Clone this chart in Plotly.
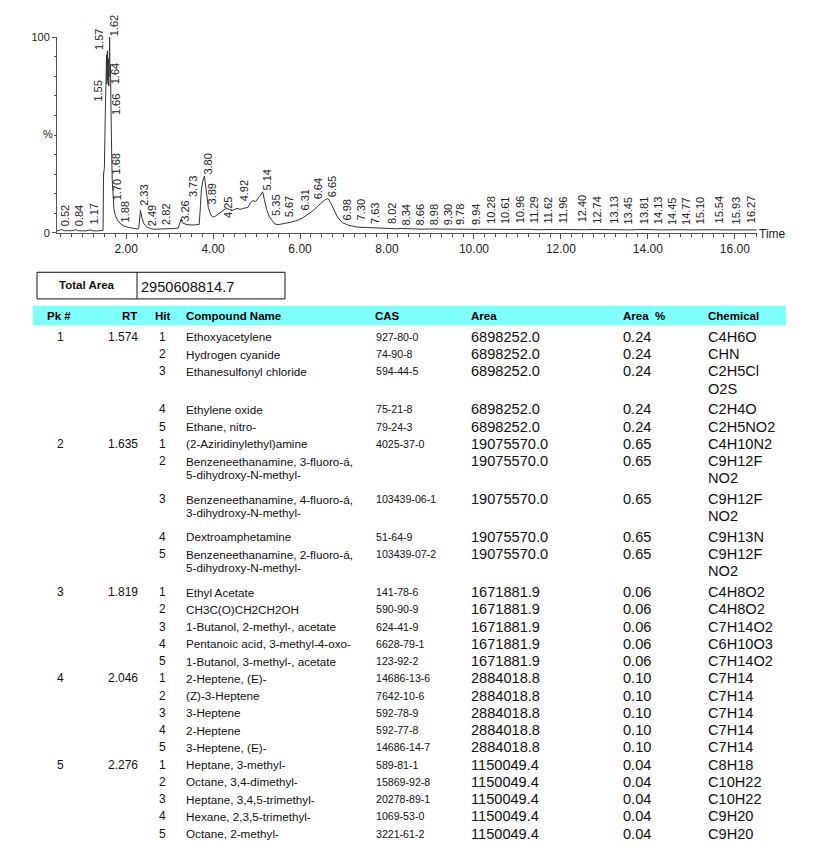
import plotly.graph_objects as go

PAGE_W, PAGE_H = 831, 861
OFF = 8                       # default body margin of the page
W, H = PAGE_W - 2 * OFF, PAGE_H - 2 * OFF
FONT = "Liberation Sans, Arial, sans-serif"

# ---------------- chromatogram (TIC) ----------------
time_min = [
    0.41, 0.45, 0.52, 0.58, 0.66, 0.75, 0.84, 0.90, 1.00, 1.08,
    1.17, 1.25, 1.35, 1.44, 1.47, 1.48, 1.50, 1.52, 1.54, 1.55,
    1.56, 1.57, 1.58, 1.59, 1.60, 1.61, 1.62, 1.63, 1.64, 1.65,
    1.66, 1.67, 1.68, 1.69, 1.70, 1.72, 1.75, 1.80, 1.88, 1.95,
    2.05, 2.15, 2.25, 2.29, 2.31, 2.33, 2.36, 2.40, 2.45, 2.49,
    2.60, 2.70, 2.82, 2.95, 3.10, 3.20, 3.23, 3.26, 3.30, 3.40,
    3.55, 3.68, 3.71, 3.73, 3.77, 3.80, 3.83, 3.87, 3.89, 3.95,
    4.00, 4.05, 4.15, 4.25, 4.30, 4.38, 4.45, 4.55, 4.62, 4.70,
    4.80, 4.86, 4.92, 4.98, 5.02, 5.06, 5.10, 5.14, 5.18, 5.23,
    5.30, 5.35, 5.42, 5.50, 5.60, 5.67, 5.80, 5.95, 6.05, 6.15,
    6.25, 6.31, 6.40, 6.50, 6.58, 6.64, 6.65, 6.70, 6.77, 6.85,
    6.92, 6.98, 7.10, 7.20, 7.30, 7.45, 7.63, 7.80, 8.02, 8.20,
    8.34, 8.50, 8.66, 8.80, 8.98, 9.15, 9.30, 9.50, 9.62, 9.78,
    9.94, 10.10, 10.28, 10.45, 10.61, 10.80, 10.96, 11.10, 11.29, 11.45,
    11.62, 11.80, 11.96, 12.15, 12.40, 12.55, 12.74, 12.90, 13.13, 13.30,
    13.45, 13.60, 13.81, 13.95, 14.13, 14.30, 14.45, 14.60, 14.77, 14.95,
    15.10, 15.30, 15.54, 15.75, 15.93, 16.10, 16.27, 16.40, 16.50,
]
intensity_pct = [
    1.0, 1.2, 1.7, 1.1, 1.0, 1.1, 1.6, 1.1, 1.0, 1.0,
    1.5, 1.0, 1.0, 1.1, 1.3, 30.0, 33.0, 60.0, 85.0, 91.0,
    76.0, 93.0, 78.0, 89.0, 75.0, 92.0, 100.0, 80.0, 86.0, 66.0,
    58.0, 38.0, 27.0, 21.0, 16.5, 12.0, 9.0, 6.5, 4.5, 3.5,
    2.8, 2.3, 2.0, 2.2, 7.0, 11.5, 8.0, 5.0, 3.5, 2.8,
    2.0, 1.8, 2.0, 2.0, 2.2, 2.5, 5.5, 6.8, 5.0, 4.2,
    4.0, 4.3, 14.0, 22.0, 27.0, 29.0, 24.0, 16.0, 13.0, 9.0,
    8.0, 8.5, 10.0, 11.5, 12.5, 12.0, 11.5, 12.5, 12.0, 12.5,
    13.0, 15.5, 16.5, 16.0, 17.5, 18.5, 19.5, 21.0, 17.0, 12.0,
    8.0, 6.5, 4.5, 4.2, 4.6, 5.0, 5.5, 6.5, 7.5, 9.0,
    10.5, 11.5, 13.5, 15.5, 17.0, 17.5, 17.4, 15.5, 12.0, 8.5,
    6.5, 5.2, 4.0, 3.4, 3.0, 2.8, 2.6, 2.4, 2.3, 2.1,
    2.2, 2.0, 2.1, 1.9, 2.0, 1.9, 2.0, 1.8, 1.9, 1.9,
    1.8, 1.8, 1.9, 1.7, 1.8, 1.7, 1.8, 1.7, 1.8, 1.6,
    1.8, 1.7, 1.7, 1.6, 1.8, 1.6, 1.7, 1.6, 1.7, 1.6,
    1.6, 1.5, 1.7, 1.5, 1.6, 1.5, 1.6, 1.5, 1.6, 1.5,
    1.6, 1.5, 1.6, 1.5, 1.6, 1.5, 1.6, 1.5, 1.5,
]

# peak labels (retention time text) and the level (%) at which each label sits
label_rt = [
    "0.52", "0.84", "1.17", "1.55", "1.57", "1.62", "1.64", "1.66", "1.68", "1.70",
    "1.88", "2.33", "2.49", "2.82", "3.26", "3.73", "3.80", "3.89", "4.25", "4.92",
    "5.14", "5.35", "5.67", "6.31", "6.64", "6.65", "6.98", "7.30", "7.63", "8.02",
    "8.34", "8.66", "8.98", "9.30", "9.78", "9.94", "10.28", "10.61", "10.96", "11.29",
    "11.62", "11.96", "12.40", "12.74", "13.13", "13.45", "13.81", "14.13", "14.45", "14.77",
    "15.10", "15.54", "15.93", "16.27",
]
label_level = [
    3.0, 3.0, 3.5, 66.6, 92.9, 100.0, 75.4, 59.6, 29.2, 15.9,
    5.0, 13.3, 2.8, 3.7, 5.4, 17.7, 29.2, 13.9, 7.3, 15.4,
    21.2, 8.3, 7.6, 10.9, 16.8, 17.6, 5.9, 5.9, 4.2, 4.2,
    3.4, 3.4, 3.4, 3.4, 3.4, 3.4, 4.2, 4.2, 4.2, 4.2,
    4.2, 4.2, 5.0, 4.2, 4.2, 3.7, 3.7, 3.7, 3.7, 3.7,
    3.7, 4.2, 3.7, 4.2,
]
# horizontal placement of crowded labels (px, relative to the peak time)
LABEL_SHIFT = {"1.55": -9, "1.57": -9, "3.73": -9, "4.92": -9,
               "6.31": -9, "6.64": -9, "9.78": -5}
DEFAULT_SHIFT = 4

# ---------------- peak table ----------------
total_area = "2950608814.7"
peak_no = ["1", "2", "3", "4", "5"]
peak_rt = ["1.574", "1.635", "1.819", "2.046", "2.276"]
peak_area = ["6898252.0", "19075570.0", "1671881.9", "2884018.8", "1150049.4"]
peak_area_pct = ["0.24", "0.65", "0.06", "0.10", "0.04"]
hit_names = [
    ["Ethoxyacetylene", "Hydrogen cyanide", "Ethanesulfonyl chloride",
     "Ethylene oxide", "Ethane, nitro-"],
    ["(2-Aziridinylethyl)amine",
     "Benzeneethanamine, 3-fluoro-á,\n5-dihydroxy-N-methyl-",
     "Benzeneethanamine, 4-fluoro-á,\n3-dihydroxy-N-methyl-",
     "Dextroamphetamine",
     "Benzeneethanamine, 2-fluoro-á,\n5-dihydroxy-N-methyl-"],
    ["Ethyl Acetate", "CH3C(O)CH2CH2OH", "1-Butanol, 2-methyl-, acetate",
     "Pentanoic acid, 3-methyl-4-oxo-", "1-Butanol, 3-methyl-, acetate"],
    ["2-Heptene, (E)-", "(Z)-3-Heptene", "3-Heptene", "2-Heptene", "3-Heptene, (E)-"],
    ["Heptane, 3-methyl-", "Octane, 3,4-dimethyl-", "Heptane, 3,4,5-trimethyl-",
     "Hexane, 2,3,5-trimethyl-", "Octane, 2-methyl-"],
]
hit_cas = [
    ["927-80-0", "74-90-8", "594-44-5", "75-21-8", "79-24-3"],
    ["4025-37-0", "", "103439-06-1", "51-64-9", "103439-07-2"],
    ["141-78-6", "590-90-9", "624-41-9", "6628-79-1", "123-92-2"],
    ["14686-13-6", "7642-10-6", "592-78-9", "592-77-8", "14686-14-7"],
    ["589-81-1", "15869-92-8", "20278-89-1", "1069-53-0", "3221-61-2"],
]
hit_formula = [
    ["C4H6O", "CHN", "C2H5Cl\nO2S", "C2H4O", "C2H5NO2"],
    ["C4H10N2", "C9H12F\nNO2", "C9H12F\nNO2", "C9H13N", "C9H12F\nNO2"],
    ["C4H8O2", "C4H8O2", "C7H14O2", "C6H10O3", "C7H14O2"],
    ["C7H14", "C7H14", "C7H14", "C7H14", "C7H14"],
    ["C8H18", "C10H22", "C10H22", "C9H20", "C9H20"],
]
headers = ["Pk #", "RT", "Hit", "Compound Name", "CAS", "Area", "Area\u00a0 %", "Chemical"]


# ---------------- page-pixel helpers ----------------
def P(xpx):
    return (xpx - OFF) / W


def Q(ypx):
    return 1 - (ypx - OFF) / H


# ---------------- figure ----------------
fig = go.Figure()
fig.add_trace(go.Scatter(
    x=time_min, y=intensity_pct, mode="lines",
    line=dict(color="#333333", width=1), hoverinfo="skip", showlegend=False))

AX_L, AX_R = 57, 757      # page px of x-axis ends
Y_TOP, Y_BOT = 31.5, 230  # page px of 100 % and 0 %
AXC = "#555555"
fig.update_layout(
    width=W, height=H, margin=dict(l=0, r=0, t=0, b=0),
    paper_bgcolor="white", plot_bgcolor="white", showlegend=False,
    font=dict(family=FONT, color="#222222"),
    xaxis=dict(domain=[P(AX_L), P(AX_R)], range=[0.41, 16.51],
               tick0=0, dtick=2, tickformat=".2f", ticks="outside", ticklen=5,
               tickcolor=AXC, showline=True, linecolor=AXC, linewidth=1,
               showgrid=False, zeroline=False, tickfont=dict(size=12, color="#222"),
               minor=dict(tick0=0, dtick=0.25, ticks="outside", ticklen=3, tickcolor=AXC)),
    yaxis=dict(domain=[Q(Y_BOT), Q(Y_TOP)], range=[0, 100],
               tick0=0, dtick=100, ticks="outside", ticklen=4, tickcolor=AXC,
               showline=True, linecolor=AXC, linewidth=1, showgrid=False,
               zeroline=False, tickfont=dict(size=11, color="#222"),
               minor=dict(tick0=0, dtick=10, ticks="outside", ticklen=2.5, tickcolor=AXC)),
)


def txt(x, y, s, size, anchor="left", color="#111111"):
    fig.add_annotation(x=P(x), y=Q(y), xref="paper", yref="paper", text=s,
                       showarrow=False, xanchor=anchor, yanchor="middle",
                       borderpad=0, borderwidth=0,
                       font=dict(family=FONT, size=size, color=color))


# axis captions
txt(48, 130, "%", 11, "center", "#222")
txt(759, 231, "Time", 12, "left", "#222")

# peak labels
for rt, lv in zip(label_rt, label_level):
    fig.add_annotation(x=float(rt), y=lv, xref="x", yref="y", text=rt,
                       showarrow=False, textangle=-90, xanchor="center",
                       yanchor="bottom", borderpad=0, borderwidth=0,
                       xshift=LABEL_SHIFT.get(rt, DEFAULT_SHIFT), yshift=1,
                       font=dict(family=FONT, size=11, color="#222"))

# total area box
fig.add_shape(type="rect", xref="paper", yref="paper", x0=P(37), x1=P(285),
              y0=Q(297), y1=Q(270), line=dict(color="#111", width=1))
fig.add_shape(type="line", xref="paper", yref="paper", x0=P(137), x1=P(137),
              y0=Q(297), y1=Q(270), line=dict(color="#111", width=1))
txt(87, 283, "<b>Total Area</b>", 11.5, "center")
txt(141, 285, total_area, 14.6, "left")

# header band
fig.add_shape(type="rect", xref="paper", yref="paper", x0=P(33), x1=P(786),
              y0=Q(324), y1=Q(304), fillcolor="#80FFFF", line=dict(width=0), layer="below")
HEAD_POS = [(58.5, "center"), (137, "right"), (162.5, "center"), (186, "left"),
            (375, "left"), (471, "left"), (622.5, "left"), (708, "left")]
for h, (hx, ha) in zip(headers, HEAD_POS):
    txt(hx, 314, "<b>" + h + "</b>", 11.5, ha, "#000")

# body rows
ROW0 = 335.5
PITCH1, PITCH2 = 17.5, 38.5
y = ROW0
for i in range(len(peak_no)):
    for j in range(len(hit_names[i])):
        name = hit_names[i][j].split("\n")
        chem = hit_formula[i][j].split("\n")
        if j == 0:
            txt(60, y, peak_no[i], 12, "center")
            txt(138, y, peak_rt[i], 12, "right")
        txt(162, y, str(j + 1), 12, "center")
        for k, line in enumerate(name):
            txt(186, y + k * 13.3, line, 11.7, "left")
        if hit_cas[i][j]:
            txt(375.5, y, hit_cas[i][j], 10.6, "left")
        txt(471, y, peak_area[i], 14.6, "left")
        txt(622.5, y, peak_area_pct[i], 14.6, "left")
        for k, line in enumerate(chem):
            txt(708, y + k * 17.5, line, 14.6, "left")
        nlines = max(len(name), len(chem))
        y += PITCH1 if nlines == 1 else PITCH2

fig.write_html("out.html", config={"displayModeBar": False})
